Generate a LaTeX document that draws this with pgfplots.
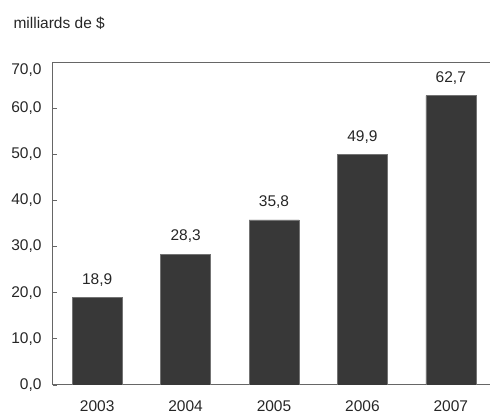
\documentclass[border=0pt]{standalone}
\usepackage{fontspec}
\setmainfont{Liberation Sans}
\usepackage{pgfplots}
\pgfplotsset{compat=1.18}
\newcommand\f{\fontsize{15.5}{18}\selectfont}
\begin{document}
\begin{tikzpicture}
\begin{axis}[
  x=88.4pt, y=4.614pt,
  xmin=-0.5, xmax=4.5, ymin=0, ymax=70,
  axis line style={draw=black!60, line width=1pt},
  ytick={0,10,...,60},
  extra y ticks={70},
  extra y tick style={yticklabel style={yshift=-8pt}, major tick length=0pt},
  ytick pos=left, tick align=inside, major tick length=4pt,
  ytick style={black!60, line width=0.8pt},
  xtick={0,...,4}, xticklabels={2003,2004,2005,2006,2007},
  xtick style={draw=none},
  every tick label/.append style={font=\f, text=black!85},
  xticklabel style={yshift=-8pt},
  yticklabel style={xshift=-8pt},
  /pgf/number format/.cd, fixed, fixed zerofill, precision=1, use comma, assume math mode=true,
  /pgfplots/.cd,
  ybar, bar width=50pt,
  nodes near coords,
  nodes near coords style={font=\f, text=black!85, yshift=8pt},
]
\addplot[fill=black!78, draw=black!55, line width=0.6pt] coordinates {
  (0,18.9) (1,28.3) (2,35.8) (3,49.9) (4,62.7)
};
\end{axis}
\node[anchor=base west, font=\f, text=black!85] at (-43pt,356pt) {milliards de \$};
\pgfresetboundingbox
\useasboundingbox (-53pt,-30pt) rectangle (437pt,385pt);
\end{tikzpicture}
\end{document}
